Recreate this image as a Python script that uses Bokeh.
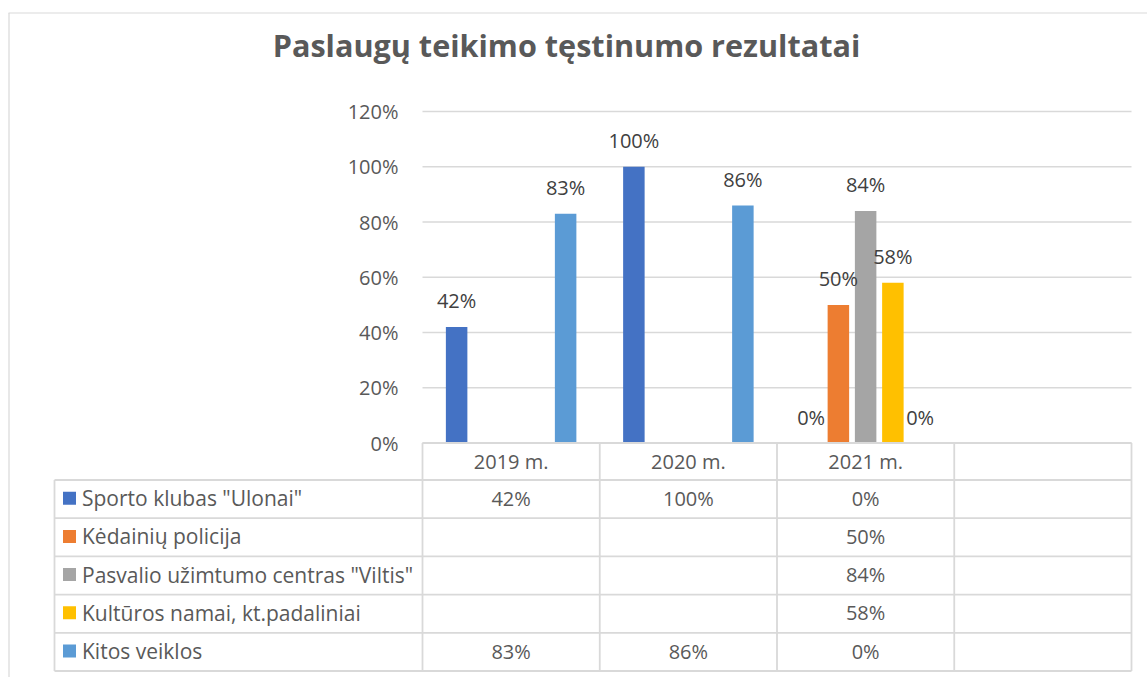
from bokeh.plotting import figure
from bokeh.models import Range1d, LinearAxis, FixedTicker, NumeralTickFormatter
from bokeh.core.properties import value
from bokeh.embed import file_html
from bokeh.resources import INLINE

# ---------------- data ----------------
chart_title = "Paslaugų teikimo tęstinumo rezultatai"
categories = ["2019 m.", "2020 m.", "2021 m.", ""]
series_names = [
    'Sporto klubas "Ulonai"',
    "Kėdainių policija",
    'Pasvalio užimtumo centras "Viltis"',
    "Kultūros namai, kt.padaliniai",
    "Kitos veiklos",
]
sporto_klubas = [0.42, 1.00, 0.00, None]
kedainiu_policija = [None, None, 0.50, None]
pasvalio_viltis = [None, None, 0.84, None]
kulturos_namai = [None, None, 0.58, None]
kitos_veiklos = [0.83, 0.86, 0.00, None]
series_values = [sporto_klubas, kedainiu_policija, pasvalio_viltis, kulturos_namai, kitos_veiklos]
series_colors = ["#4472C4", "#ED7D31", "#A5A5A5", "#FFC000", "#5B9BD5"]
y_ticks = [0.0, 0.2, 0.4, 0.6, 0.8, 1.0, 1.2]

# ---------------- layout (page pixels) ----------------
OFF = 0
W, H = 1147, 677
PLOT_L, PLOT_R = 422, 1131
Y0_PX, YTOP_PX = 442.5, 111
TABLE_L = 54
HEADER_BOTTOM = 479.5
ROW_H = 38.2
BAR_STEP_PX = 27.25
BAR_W_PX = 21.5
LABEL_GAP_PX = 26
FONT = "Open Sans"
GRID_COLOR = "#d9d9d9"
TEXT_COLOR = "#595959"
LABEL_COLOR = "#404040"

ncat = len(categories)
nser = len(series_values)
ux = (PLOT_R - PLOT_L) / ncat
uy = (Y0_PX - YTOP_PX) / max(y_ticks)


def X(px):
    return (px - PLOT_L) / ux


def Y(py):
    return (Y0_PX - py) / uy


p = figure(
    width=W, height=H,
    x_range=Range1d(X(OFF), X(OFF + W)),
    y_range=Range1d(Y(OFF + H), Y(OFF)),
    output_backend="svg", toolbar_location=None,
    x_axis_location=None, y_axis_location=None,
    min_border=0,
)
p.outline_line_color = None
p.grid.visible = False
p.background_fill_color = "white"
p.border_fill_color = "white"

# outer chart border
p.segment(x0=[X(8), X(8.5)], y0=[Y(12.5), Y(12.5)],
          x1=[X(OFF + W + 5), X(8.5)], y1=[Y(12.5), Y(OFF + H + 5)],
          line_color=GRID_COLOR, line_width=1.2)

# title
p.text(x=[X(566)], y=[Y(44)], text=[chart_title], text_align="center",
       text_baseline="middle", text_font=value(FONT), text_font_style="bold",
       text_font_size="30.6px", text_color=TEXT_COLOR)

# y axis
yaxis = LinearAxis(
    fixed_location=0,
    ticker=FixedTicker(ticks=y_ticks),
    formatter=NumeralTickFormatter(format="0%"),
    axis_line_color=None, major_tick_line_color=None, minor_tick_line_color=None,
    major_tick_out=0, major_tick_in=0, major_label_standoff=24,
    major_label_text_font=FONT, major_label_text_font_size="20px",
    major_label_text_color=TEXT_COLOR,
)
p.add_layout(yaxis, "left")

# gridlines
p.segment(x0=[0] * len(y_ticks), x1=[ncat] * len(y_ticks), y0=y_ticks, y1=y_ticks,
          line_color=GRID_COLOR, line_width=1.5)

# bars
label_x, label_y, label_t = [], [], []
for j, vals in enumerate(series_values):
    xs, tops = [], []
    for i, v in enumerate(vals):
        if v is None:
            continue
        xs.append(i + 0.5 + (j - (nser - 1) / 2) * BAR_STEP_PX / ux)
        tops.append(v)
    p.vbar(x=xs, top=tops, bottom=0, width=BAR_W_PX / ux, fill_color=series_colors[j],
           line_color=None)
    label_x += xs
    label_y += [t + LABEL_GAP_PX / uy for t in tops]
    label_t += [f"{t:.0%}" for t in tops]

p.text(x=label_x, y=label_y, text=label_t, text_align="center", text_baseline="middle",
       text_font=value(FONT), text_font_size="20px", text_color=LABEL_COLOR)

# data table
table_bottom = HEADER_BOTTOM + nser * ROW_H
row_tops = [HEADER_BOTTOM + k * ROW_H for k in range(nser)]
h_y = [HEADER_BOTTOM + k * ROW_H for k in range(nser + 1)]
p.segment(x0=[X(TABLE_L)] * len(h_y), x1=[ncat] * len(h_y), y0=[Y(v) for v in h_y],
          y1=[Y(v) for v in h_y], line_color=GRID_COLOR, line_width=1.8)
p.segment(x0=[0], x1=[ncat], y0=[0], y1=[0], line_color=GRID_COLOR, line_width=1.8)
p.segment(x0=list(range(ncat + 1)), x1=list(range(ncat + 1)), y0=[0] * (ncat + 1),
          y1=[Y(table_bottom)] * (ncat + 1), line_color=GRID_COLOR, line_width=1.8)
p.segment(x0=[X(TABLE_L)], x1=[X(TABLE_L)], y0=[Y(HEADER_BOTTOM)], y1=[Y(table_bottom)],
          line_color=GRID_COLOR, line_width=1.8)

# header labels
p.text(x=[i + 0.5 for i in range(ncat)], y=[Y(460.5)] * ncat, text=categories,
       text_align="center", text_baseline="middle", text_font=value(FONT),
       text_font_size="20px", text_color=TEXT_COLOR)

# legend keys + names
p.scatter(x=[X(69)] * nser, y=[Y(t + 18.2) for t in row_tops], marker="square", size=13,
          fill_color=series_colors, line_color=None)
p.text(x=[X(81.5)] * nser, y=[Y(t + 18.2) for t in row_tops], text=series_names,
       text_align="left", text_baseline="middle", text_font=value(FONT),
       text_font_size="21px", text_color=TEXT_COLOR)

# table values
vx, vy, vt = [], [], []
for j, vals in enumerate(series_values):
    for i, v in enumerate(vals):
        if v is None:
            continue
        vx.append(i + 0.5)
        vy.append(Y(row_tops[j] + 18.2))
        vt.append(f"{v:.0%}")
p.text(x=vx, y=vy, text=vt, text_align="center", text_baseline="middle",
       text_font=value(FONT), text_font_size="20px", text_color=TEXT_COLOR)

open("out.html", "w").write(file_html(p, INLINE))
